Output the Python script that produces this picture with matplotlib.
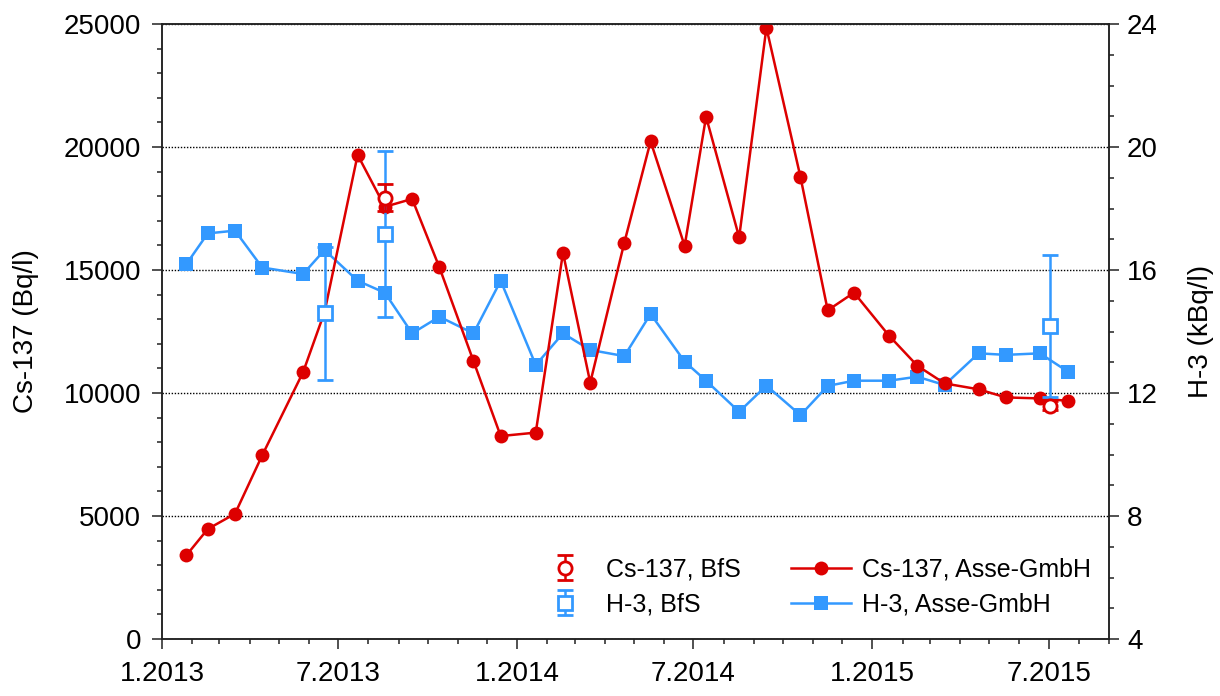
import numpy as np
import matplotlib
matplotlib.use('Agg')
import matplotlib.pyplot as plt
import matplotlib.dates as mdates
from matplotlib.ticker import MultipleLocator, FuncFormatter

plt.rcParams['font.family'] = ['Liberation Sans', 'DejaVu Sans']

RED = '#DD0000'
BLUE = '#3399FF'

# ------------------------------------------------------------
# Daten (Asse-GmbH, monatliche Probenahme)
# ------------------------------------------------------------
asse_dates = np.array([
    '2013-01-26', '2013-02-17', '2013-03-17', '2013-04-14', '2013-05-26',
    '2013-06-17', '2013-07-21', '2013-08-18', '2013-09-15', '2013-10-13',
    '2013-11-17', '2013-12-15', '2014-01-20', '2014-02-17', '2014-03-17',
    '2014-04-21', '2014-05-18', '2014-06-22', '2014-07-14', '2014-08-17',
    '2014-09-14', '2014-10-19', '2014-11-16', '2014-12-13', '2015-01-18',
    '2015-02-16', '2015-03-16', '2015-04-20', '2015-05-18', '2015-06-22',
    '2015-07-21'], dtype='datetime64[D]')

cs137_asse = [3400, 4470, 5090, 7470, 10850,
              13290, 19680, 17570, 17890, 15110,
              11300, 8250, 8390, 15700, 10420,
              16110, 20230, 15980, 21230, 16330,
              24850, 18780, 13360, 14080, 12330,
              11110, 10390, 10150, 9820, 9780,
              9680]

h3_asse = [16.19, 17.19, 17.28, 16.08, 15.87,
           16.65, 15.65, 15.26, 13.94, 14.48,
           13.94, 15.65, 12.91, 13.94, 13.40,
           13.20, 14.57, 13.02, 12.40, 11.39,
           12.24, 11.28, 12.23, 12.40, 12.40,
           12.53, 12.26, 13.29, 13.24, 13.29,
           12.69]

# BfS Kontrollmessungen
h3_bfs_dates = np.array(['2013-06-17', '2013-08-18', '2015-07-02'], dtype='datetime64[D]')
h3_bfs = [14.59, 17.17, 14.18]
h3_bfs_err = [2.17, 2.70, 2.31]

cs_bfs_dates = np.array(['2013-08-18', '2015-07-02'], dtype='datetime64[D]')
cs137_bfs = [17940, 9490]
cs137_bfs_err = [540, 180]

# ------------------------------------------------------------
# Figure
# ------------------------------------------------------------
fig = plt.figure(figsize=(12.2, 6.96), dpi=100)
ax = fig.add_subplot(111)
fig.subplots_adjust(left=162 / 1220, right=1109 / 1220,
                    bottom=1 - 639 / 696, top=1 - 24 / 696)
ax_h = ax.twinx()
ax_h.set_ylim(4, 24)

# H-3 Asse (unterste Ebene), Skala der rechten Achse
h3_line, = ax.plot(asse_dates, h3_asse, color=BLUE, lw=1.8, marker='s',
                   markersize=9.5, markeredgewidth=0, zorder=2,
                   transform=ax_h.transData)
cs_line, = ax.plot(asse_dates, cs137_asse, color=RED, lw=1.8, marker='o',
                   markersize=10, markeredgewidth=0, zorder=3)

h3_bfs_eb = ax.errorbar(h3_bfs_dates, h3_bfs, yerr=h3_bfs_err, fmt='s',
                        color=BLUE, mfc='white', mec=BLUE, mew=2,
                        markersize=9.5, elinewidth=1.8, capsize=6, capthick=1.8,
                        zorder=4, transform=ax_h.transData)
cs_bfs_eb = ax.errorbar(cs_bfs_dates, cs137_bfs, yerr=cs137_bfs_err, fmt='o',
                        color=RED, mfc='white', mec=RED, mew=2,
                        markersize=9.5, elinewidth=1.8, capsize=6, capthick=1.8,
                        zorder=5)

# Achsen
ax.set_xlim(np.datetime64('2013-01-01'), np.datetime64('2015-09-01'))
ax.set_ylim(0, 25000)
ax.yaxis.set_major_locator(MultipleLocator(5000))
ax.yaxis.set_minor_locator(MultipleLocator(1000))
ax_h.yaxis.set_major_locator(MultipleLocator(4))
ax_h.yaxis.set_minor_locator(MultipleLocator(1))

ax.xaxis.set_major_locator(mdates.MonthLocator(bymonth=[1, 7]))
ax.xaxis.set_minor_locator(mdates.MonthLocator())


def fmt_date(x, pos):
    d = mdates.num2date(x)
    return f"{d.month}.{d.year}"


ax.xaxis.set_major_formatter(FuncFormatter(fmt_date))

for a in (ax, ax_h):
    a.tick_params(which='major', length=7, width=1.1, labelsize=20,
                  direction='out', color='#222222')
    a.tick_params(which='minor', length=3.6, width=1.1, direction='out',
                  color='#222222')
    for s in a.spines.values():
        s.set_linewidth(1.1)
        s.set_color('#222222')
ax.tick_params(axis='y', which='major', pad=8)
ax.tick_params(axis='x', which='major', pad=9)
ax_h.tick_params(axis='y', which='major', pad=6)

ax.yaxis.grid(True, which='major', color='black', linestyle=(0, (1, 1.2)),
              linewidth=1.0)

ax.set_ylabel('Cs-137 (Bq/l)', fontsize=20, labelpad=18)
ax_h.set_ylabel('H-3 (kBq/l)', fontsize=20, labelpad=22)

leg = ax.legend([cs_bfs_eb, h3_bfs_eb, cs_line, h3_line],
                ['Cs-137, BfS', 'H-3, BfS', 'Cs-137, Asse-GmbH', 'H-3, Asse-GmbH'],
                ncol=2, loc='lower right', bbox_to_anchor=(1.005, 0.0),
                frameon=False, fontsize=18,
                handlelength=2.4, handletextpad=0.45, columnspacing=2.0,
                labelspacing=0.45)

fig.savefig('out.png', dpi=100)
